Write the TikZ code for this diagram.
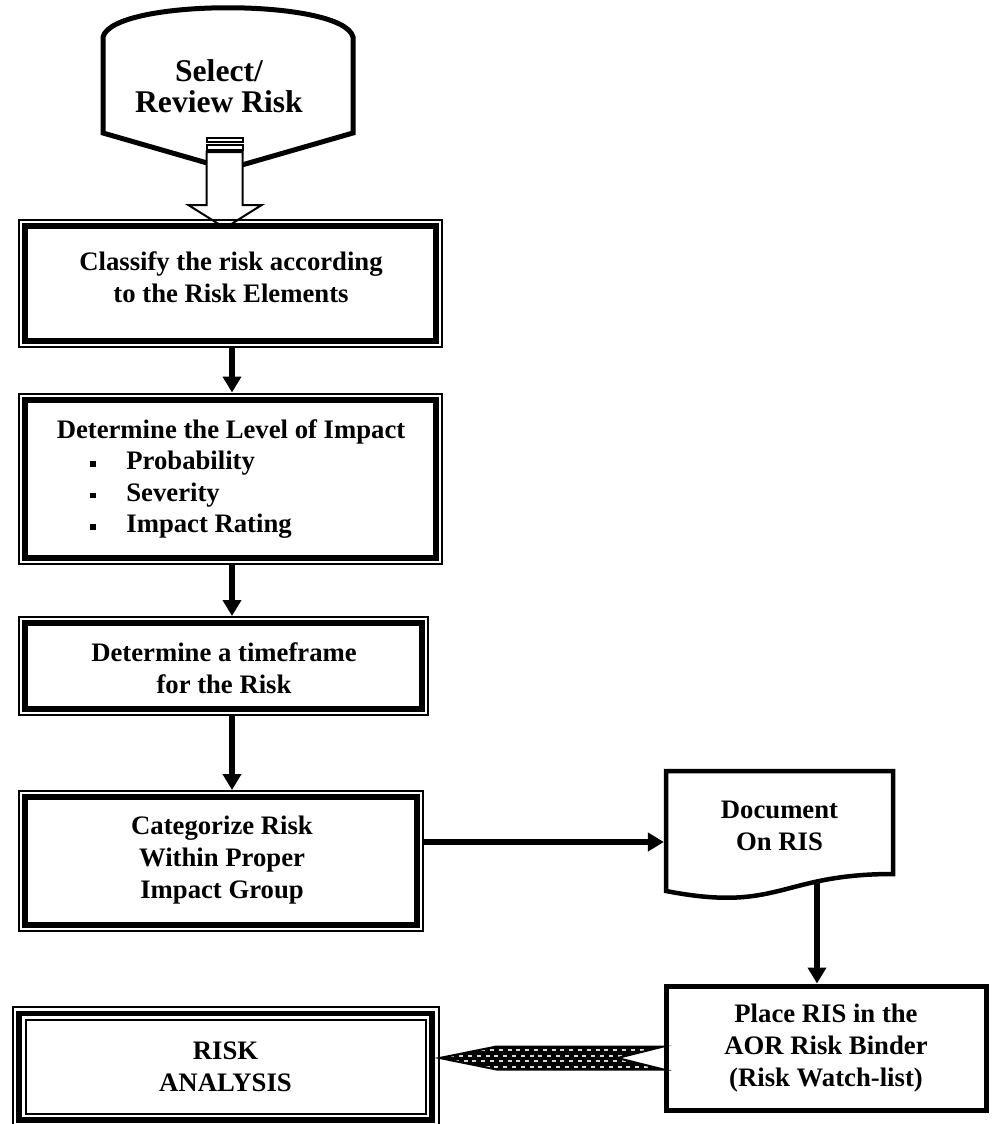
\documentclass[tikz,border=0pt]{standalone}
\usepackage{fontspec}
\setmainfont{Liberation Serif}
\usetikzlibrary{arrows.meta,calc,backgrounds}
% small filled square used as list marker
\newcommand\listsquare{\makebox[18pt][l]{\raisebox{1.6pt}{\rule{2.75pt}{2.75pt}}}}
\begin{document}
\begin{tikzpicture}[x=0.5pt,y=-0.5pt,
  every node/.style={inner sep=0pt},
  boxtext/.style={align=center, font=\fontsize{13.35pt}{15.8pt}\selectfont\bfseries},
  linetext/.style={font=\fontsize{13.35pt}{15.8pt}\selectfont\bfseries},
  stepframe/.style={draw, line width=3pt, outer sep=3.5pt},
  plainframe/.style={draw, line width=2.5pt},
  flow/.style={line width=2.75pt, -{Triangle[width=9pt,length=8pt]}},
  thinrule/.style={line width=1pt},
]
\useasboundingbox (0,0) rectangle (992,1124);

% ---- start terminal: Select / Review Risk
\draw[line width=2.5pt, line join=miter, fill=white]
  (103,37) .. controls (113,-2) and (343,-2) .. (353,37)
  -- (353,133) -- (228,169) -- (103,133) -- cycle;
\node[boxtext, font=\fontsize{15.8pt}{15.2pt}\selectfont\bfseries] (select) at (219,86) {Select/\\Review Risk};

% striped block arrow leaving the terminal
\filldraw[line width=1pt, fill=white] (206.7,138.3) rectangle (242.7,141.7);
\filldraw[line width=1pt, fill=white] (206.7,144.5) rectangle (242.7,150);
\filldraw[line width=1pt, fill=white, line join=miter]
  (206.7,152) -- (242.7,152) -- (242.7,205) -- (261.7,205) -- (225,228)
  -- (188.3,205) -- (206.7,205) -- cycle;

% ---- process steps (thick inner frame, thin outer frame)
\node[stepframe, minimum width=205.5pt, minimum height=57.5pt] (classify) at (230.5,283.5) {};
\node[boxtext] (classify-text) at (231,277) {Classify the risk according\\to the Risk Elements};

\node[stepframe, minimum width=205.5pt, minimum height=79pt] (impact) at (230.5,478.5) {};
\node[linetext, anchor=base] (impact-text) at (231,438) {Determine the Level of Impact};
\node[boxtext, align=left, anchor=west] (impact-list) at (90,495)
  {\listsquare Probability\\\listsquare Severity\\\listsquare Impact Rating};

\node[stepframe, minimum width=198.5pt, minimum height=43pt] (timeframe) at (223.5,666) {};
\node[boxtext] (timeframe-text) at (224,668) {Determine a timeframe\\for the Risk};

\node[stepframe, minimum width=196pt, minimum height=64pt] (categorize) at (221,861) {};
\node[boxtext] (categorize-text) at (222,860) {Categorize Risk\\Within Proper\\Impact Group};

\foreach \n in {classify,impact,timeframe,categorize}
  \draw[thinrule] ([shift={(0.5pt,-0.5pt)}]\n.north west) rectangle ([shift={(-0.5pt,0.5pt)}]\n.south east);

% main vertical flow
\coordinate (spine) at (232,0);
\draw[flow] (classify.south -| spine) -- (impact.north -| spine);
\draw[flow] (impact.south -| spine) -- (timeframe.north -| spine);
\draw[flow] (timeframe.south -| spine) -- (categorize.north -| spine);

% ---- document symbol
\draw[line width=2.25pt, line join=miter, fill=white]
  (666,771) -- (893,771) -- (893,874) .. controls (779.5,874) and (779.5,913) .. (666,891) -- cycle;
\node[boxtext] (doc) at (779.5,826) {Document\\On RIS};
\coordinate (doc-in) at (663.9,842);
\coordinate (doc-out) at (817,881);
\draw[flow] (categorize.east |- doc-in) -- (doc-in);

% ---- binder step
\node[plainframe, boxtext, minimum width=160pt, minimum height=62pt] (place) at (826,1048)
  {Place RIS in the\\AOR Risk Binder\\(Risk Watch-list)};
\draw[flow] (doc-out) -- (place.north -| doc-out);

% ---- end: risk analysis (thin / thick / thin frame)
\node[draw, line width=2.75pt, outer sep=3.75pt, boxtext, minimum width=206.5pt, minimum height=53.25pt]
  (analysis) at (225.5,1066.75) {RISK\\ANALYSIS};
\draw[thinrule] ([shift={(0.5pt,-0.5pt)}]analysis.north west) rectangle ([shift={(-0.5pt,0.5pt)}]analysis.south east);
\draw[thinrule] ([shift={(7pt,-7pt)}]analysis.north west) rectangle ([shift={(-7pt,7pt)}]analysis.south east);

% ---- notched, dotted arrow back to the analysis
\coordinate (fb-tip) at (analysis.east |- 0,1058);
\coordinate (fb-tail) at (place.west |- 0,1058);
\coordinate (fb-a) at ($(fb-tip)+(57,-11.5)$);
\coordinate (fb-b) at ($(fb-tail)+(0,-11.5)$);
\coordinate (fb-n) at ($(fb-tail)+(-46,0)$);
\coordinate (fb-c) at ($(fb-tail)+(0,11.5)$);
\coordinate (fb-d) at ($(fb-tip)+(57,11.5)$);
\begin{scope}[on background layer]
  \begin{scope}
    \clip (fb-tip) -- (fb-a) -- (fb-b) -- (fb-n) -- (fb-c) -- (fb-d) -- cycle;
    \fill[black] (430,1040) rectangle (680,1076);
    \foreach \r in {0,...,3}
      \foreach \c in {0,...,26}
        \fill[white!85!black] ({446+\c*8.8+mod(\r,2)*4.4},{1049+\r*5.6}) rectangle ++(4,2);
  \end{scope}
  \draw[line width=1pt, line join=miter] (fb-tip) -- (fb-a) -- (fb-b) -- (fb-n) -- (fb-c) -- (fb-d) -- cycle;
\end{scope}
\end{tikzpicture}
\end{document}
